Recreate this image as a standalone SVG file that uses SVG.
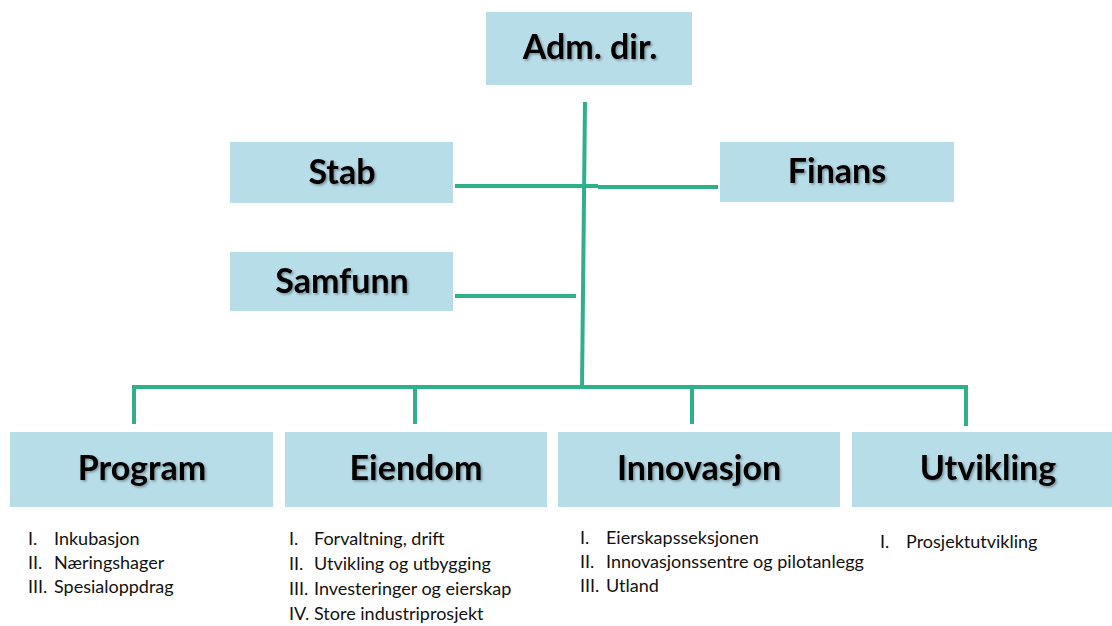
<svg xmlns="http://www.w3.org/2000/svg" width="1112" height="626" viewBox="0 0 1112 626">
  <defs>
    <filter id="shadow" x="-10%" y="-20%" width="130%" height="160%">
      <feDropShadow dx="1.5" dy="1.5" stdDeviation="1.2" flood-color="#000" flood-opacity="0.35"/>
    </filter>
  </defs>
  <style>
    .box { fill: #b7dde8; }
    .title { font-family: Lato, "Liberation Sans", sans-serif; font-weight: bold; fill: #000; text-anchor: middle; filter: url(#shadow); font-size: 34px; }
    .item { font-family: Lato, "Liberation Sans", sans-serif; font-size: 18px; fill: #111; }
    .conn { stroke: #2eb18b; stroke-width: 4; fill: none; }
  </style>
  <rect width="1112" height="626" fill="#fff"/>

  <!-- connectors -->
  <g id="connectors">
    <line class="conn" x1="585" y1="102" x2="582" y2="389"/>
    <line class="conn" x1="455" y1="186" x2="598" y2="186"/>
    <line class="conn" x1="598" y1="187" x2="718" y2="187"/>
    <line class="conn" x1="455" y1="296" x2="576" y2="296"/>
    <polyline class="conn" points="134,424 134,387 966,387 966,426"/>
    <line class="conn" x1="415" y1="387" x2="415" y2="424"/>
    <line class="conn" x1="692" y1="387" x2="692" y2="424"/>
  </g>

  <g id="adm-dir">
    <rect class="box" x="486" y="12" width="206" height="73"/>
    <text class="title" x="590" y="59">Adm. dir.</text>
  </g>

  <g id="stab">
    <rect class="box" x="230" y="142" width="223" height="61"/>
    <text class="title" x="342" y="184">Stab</text>
  </g>

  <g id="finans">
    <rect class="box" x="720" y="142" width="234" height="60"/>
    <text class="title" x="837" y="183">Finans</text>
  </g>

  <g id="samfunn">
    <rect class="box" x="230" y="252" width="223" height="59"/>
    <text class="title" x="342" y="293">Samfunn</text>
  </g>

  <g id="program">
    <rect class="box" x="10" y="432" width="263" height="75"/>
    <text class="title" x="142" y="480">Program</text>
    <text class="item" y="545"><tspan x="28">I.</tspan><tspan x="54">Inkubasjon</tspan></text>
    <text class="item" y="569"><tspan x="28">II.</tspan><tspan x="54">Næringshager</tspan></text>
    <text class="item" y="593"><tspan x="28">III.</tspan><tspan x="54">Spesialoppdrag</tspan></text>
  </g>

  <g id="eiendom">
    <rect class="box" x="285" y="432" width="262" height="75"/>
    <text class="title" x="416" y="480">Eiendom</text>
    <text class="item" y="545"><tspan x="289">I.</tspan><tspan x="314">Forvaltning, drift</tspan></text>
    <text class="item" y="570"><tspan x="289">II.</tspan><tspan x="314">Utvikling og utbygging</tspan></text>
    <text class="item" y="595"><tspan x="289">III.</tspan><tspan x="314">Investeringer og eierskap</tspan></text>
    <text class="item" y="620"><tspan x="289">IV.</tspan><tspan x="314">Store industriprosjekt</tspan></text>
  </g>

  <g id="innovasjon">
    <rect class="box" x="558" y="432" width="282" height="75"/>
    <text class="title" x="699" y="480">Innovasjon</text>
    <text class="item" y="544"><tspan x="580">I.</tspan><tspan x="606">Eierskapsseksjonen</tspan></text>
    <text class="item" y="568"><tspan x="580">II.</tspan><tspan x="606">Innovasjonssentre og pilotanlegg</tspan></text>
    <text class="item" y="592"><tspan x="580">III.</tspan><tspan x="606">Utland</tspan></text>
  </g>

  <g id="utvikling">
    <rect class="box" x="852" y="432" width="260" height="75"/>
    <text class="title" x="988" y="480">Utvikling</text>
    <text class="item" y="548"><tspan x="880">I.</tspan><tspan x="906">Prosjektutvikling</tspan></text>
  </g>
</svg>
